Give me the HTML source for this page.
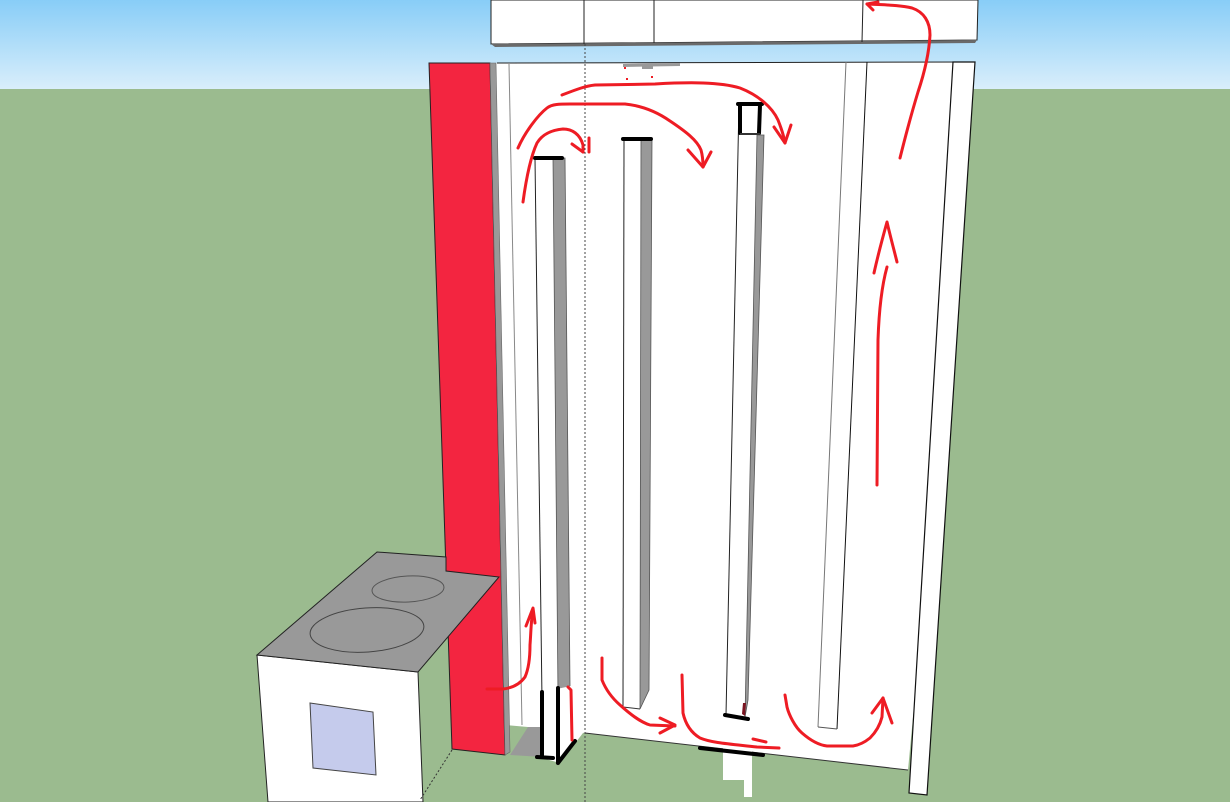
<!DOCTYPE html>
<html><head><meta charset="utf-8"><style>
html,body{margin:0;padding:0;background:#9bbb8f;}
svg{display:block;}
</style></head><body>
<svg width="1230" height="802" viewBox="0 0 1230 802" xmlns="http://www.w3.org/2000/svg">
<defs>
<linearGradient id="sky" x1="0" y1="0" x2="0" y2="1">
<stop offset="0" stop-color="#88cdf7"/>
<stop offset="1" stop-color="#d9eefb"/>
</linearGradient>
</defs>
<rect x="0" y="0" width="1230" height="89" fill="url(#sky)"/>
<rect x="0" y="89" width="1230" height="713" fill="#9bbb8f"/>

<!-- top box -->
<polygon points="491,0 978,0 977,40 491,44" fill="#fff" stroke="#222" stroke-width="1"/>
<polygon points="491,44 977,40 975,43 495,47" fill="#6a6a6a"/>
<line x1="584" y1="0" x2="584" y2="44" stroke="#222"/>
<line x1="654" y1="0" x2="654" y2="43" stroke="#222"/>
<line x1="863" y1="0" x2="862" y2="42" stroke="#222"/>

<!-- back panel -->
<polygon points="495,63 975,62 908,770 585,733 528,727 505,725" fill="#fff"/>
<line x1="497" y1="63" x2="975" y2="62" stroke="#222"/>
<line x1="585" y1="733" x2="908" y2="770" stroke="#333"/>
<line x1="509" y1="64" x2="522" y2="725" stroke="#888"/>
<polygon points="623,64 680,63 680,66 623,67" fill="#999"/>
<polygon points="642,65 653,65 653,69 642,69" fill="#999"/>

<!-- bar A -->
<line x1="535" y1="158" x2="542" y2="700" stroke="#222"/>
<polygon points="553,158 565,158 570,686 558,694" fill="#999" stroke="#555" stroke-width="0.8"/>
<!-- bar B -->
<line x1="624" y1="140" x2="623" y2="707" stroke="#222"/>
<polygon points="641,140 652,140 649,690 640,709" fill="#999" stroke="#555" stroke-width="0.8"/>
<line x1="623" y1="707" x2="640" y2="709" stroke="#333"/>
<!-- bar C -->
<line x1="739" y1="104" x2="726" y2="715" stroke="#222"/>
<polygon points="757,135 764,135 748,700 745,717" fill="#999" stroke="#555" stroke-width="0.8"/>
<polygon points="743,703 746,703 745,716 742,714" fill="#7a1420"/>
<!-- bar D -->
<line x1="846" y1="62" x2="818" y2="727" stroke="#777"/>
<line x1="867" y1="62" x2="837" y2="729" stroke="#111"/>
<line x1="818" y1="727" x2="837" y2="729" stroke="#555"/>

<!-- white blob under panel -->
<polygon points="723,748 752,750 752,797 744,797 744,780 723,780" fill="#fff"/>

<!-- right board -->
<polygon points="953,62 975,62 927,795 909,793" fill="#fff" stroke="#111" stroke-width="1.2"/>

<!-- red column -->
<polygon points="429,63 490,63 505,755 452,749" fill="#f32540" stroke="#222" stroke-width="1"/>
<polygon points="490,63 496,63 510,752 505,755" fill="#999" stroke="#666" stroke-width="0.6"/>

<!-- floor gray & bar A bottom -->
<polygon points="528,727 543,727 543,757 510,755" fill="#999"/>
<polygon points="542,692 571,686 583,733 576,742 560,763 542,758" fill="#fff"/>

<!-- stove -->
<polygon points="257,655 418,672 423,802 268,802" fill="#fff" stroke="#222" stroke-width="1"/>
<polygon points="257,655 377,552 446,557 446,571 499,577 418,672" fill="#999" stroke="#222" stroke-width="1"/>
<ellipse cx="367" cy="630" rx="57" ry="22" transform="rotate(-4 367 630)" fill="none" stroke="#444" stroke-width="1"/>
<ellipse cx="408" cy="589" rx="36" ry="13" transform="rotate(-3 408 589)" fill="none" stroke="#555" stroke-width="1"/>
<polygon points="310,703 373,712 376,775 313,768" fill="#c5cbec" stroke="#444" stroke-width="1"/>

<!-- dotted axes -->
<line x1="585" y1="44" x2="585" y2="802" stroke="#444" stroke-width="1" stroke-dasharray="2,2"/>
<line x1="452" y1="750" x2="420" y2="800" stroke="#333" stroke-width="1" stroke-dasharray="2,2"/>

<!-- black marks -->
<g stroke="#000" stroke-width="4" fill="none" stroke-linecap="round">
<path d="M535,158 L562,158"/>
<path d="M623,139 L651,139"/>
<path d="M740,105 L740,133 M738,104 L762,104 M760,105 L759,133"/>
<path d="M542,692 L542,757 M558,688 L558,763 M537,757 L553,758 M558,763 L575,741"/>
<path d="M725,715 L748,719"/>
<path d="M700,748 L763,755"/>
</g>
<path d="M740,134 L760,134" stroke="#333" stroke-width="2"/>

<!-- red arrows -->
<g stroke="#ee1c24" stroke-width="3" fill="none" stroke-linecap="round" stroke-linejoin="round">
<path d="M900,158 C905,138 911,115 918,92 C924,74 929,55 930,35 C930,22 924,12 912,8 C900,5 885,5 867,4"/>
<path d="M878,2 L867,4 L873,10"/>
<path d="M877,485 L878,340 C879,310 882,285 887,267"/>
<path d="M874,273 C878,255 882,240 887,222 C890,235 894,250 897,262"/>
<path d="M562,95 C575,90 585,86 595,85 L655,84 C690,82 720,82 740,88 C758,95 772,107 778,120 C782,130 784,137 785,143"/>
<path d="M774,127 L785,143 L791,125"/>
<path d="M518,148 C525,132 538,115 547,108 C552,104 560,104 570,104 L625,104 C645,106 660,114 670,121 C685,131 697,140 701,150 C703,157 703,162 703,167"/>
<path d="M688,150 L703,167 L711,152"/>
<path d="M523,202 C526,180 530,158 537,143 C543,133 553,130 563,129 C572,129 580,134 583,145 L583,152"/>
<path d="M572,144 L583,152"/>
<path d="M589,138 L589,152"/>
<path d="M487,689 L503,689 C512,688 520,684 525,677 C529,668 530,655 530,645 C531,632 531,620 533,610"/>
<path d="M526,626 L533,608 L535,623"/>
<path d="M568,687 L571,690 L572,740"/>
<path d="M602,658 L602,680 C606,690 612,698 620,705 C630,714 640,722 650,725 L675,726"/>
<path d="M660,718 L675,725 L660,733"/>
<path d="M682,675 L683,713 C685,722 690,732 700,738 C712,743 730,744 757,747 L779,748"/>
<path d="M753,739 L766,742"/>
<path d="M785,695 L787,707 C789,715 795,727 802,733 C810,740 818,745 827,746 L853,746 C860,745 865,742 870,738 C876,732 880,725 882,717 L883,698"/>
<path d="M872,713 L883,698 L892,723"/>
</g>
<g fill="#ee1c24">
<rect x="624" y="67" width="2" height="2"/>
<rect x="626" y="78" width="2" height="2"/>
<rect x="651" y="76" width="2" height="2"/>
</g>
</svg>
</body></html>
